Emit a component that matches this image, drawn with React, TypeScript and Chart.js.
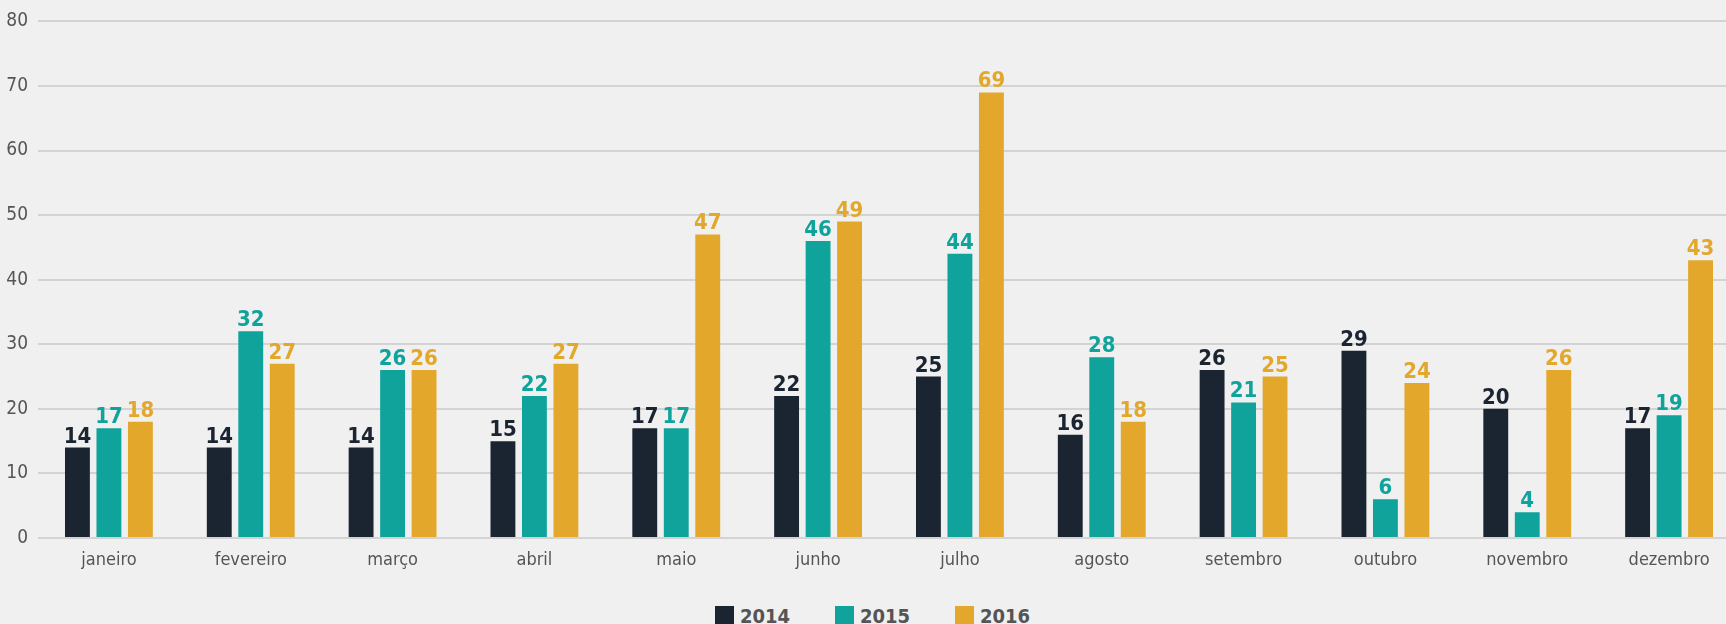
import React, { useEffect, useRef } from "react";
import { Chart, registerables } from "chart.js";

Chart.register(...registerables);

const FONT = '"DejaVu Sans Condensed", "Liberation Sans Narrow", "Roboto", sans-serif';

const months = [
  "janeiro", "fevereiro", "março", "abril", "maio", "junho",
  "julho", "agosto", "setembro", "outubro", "novembro", "dezembro",
];
const seriesNames = ["2014", "2015", "2016"];
const values2014 = [14, 14, 14, 15, 17, 22, 25, 16, 26, 29, 20, 17];
const values2015 = [17, 32, 26, 22, 17, 46, 44, 28, 21, 6, 4, 19];
const values2016 = [18, 27, 26, 27, 47, 49, 69, 18, 25, 24, 26, 43];
const colors = ["#1b2431", "#0fa39c", "#e3a72b"];
const yMin = 0;
const yMax = 80;
const yStep = 10;

const valueLabels = {
  id: "valueLabels",
  afterDatasetsDraw(chart: any) {
    const ctx = chart.ctx;
    chart.data.datasets.forEach((ds: any, i: number) => {
      const meta = chart.getDatasetMeta(i);
      meta.data.forEach((bar: any, j: number) => {
        ctx.save();
        ctx.font = `bold 22px ${FONT}`;
        ctx.fillStyle = ds.backgroundColor;
        ctx.textAlign = "center";
        ctx.textBaseline = "alphabetic";
        ctx.fillText(String(ds.data[j]), bar.x, bar.y - 5);
        ctx.restore();
      });
    });
  },
};

export default function App() {
  const ref = useRef<HTMLCanvasElement | null>(null);

  useEffect(() => {
    if (!ref.current) return;
    const allValues = [values2014, values2015, values2016];
    const chart = new Chart(ref.current, {
      type: "bar",
      data: {
        labels: months,
        datasets: seriesNames.map((name, i) => ({
          label: name,
          data: allValues[i],
          backgroundColor: colors[i],
          borderWidth: 0,
          categoryPercentage: 0.666,
          barPercentage: 0.79,
        })),
      },
      options: {
        responsive: false,
        animation: false,
        layout: { padding: { top: 20, left: 0, right: 0, bottom: 0 } },
        plugins: {
          legend: { display: false },
          tooltip: { enabled: false },
        },
        scales: {
          x: {
            grid: { display: false, drawTicks: false },
            border: { display: false },
            ticks: {
              color: "#555555",
              font: { family: FONT, size: 18 },
              padding: 12,
              maxRotation: 0,
              autoSkip: false,
            },
            afterFit(scale: any) {
              scale.height = 42;
            },
          },
          y: {
            min: yMin,
            max: yMax,
            grid: { color: "#d3d3d3", lineWidth: 2, drawTicks: false },
            border: { display: false },
            ticks: {
              stepSize: yStep,
              color: "#555555",
              font: { family: FONT, size: 19 },
              padding: 10,
            },
            afterFit(scale: any) {
              scale.width = 38;
            },
          },
        },
      },
      plugins: [valueLabels],
    });
    return () => chart.destroy();
  }, []);

  const legendX = [715, 835, 955];

  return (
    <div
      style={{
        position: "fixed",
        left: 0,
        top: 0,
        width: 1726,
        height: 624,
        overflow: "hidden",
        background: "#f0f0f0",
      }}
    >
      <canvas
        ref={ref}
        width={1740}
        height={580}
        style={{ position: "absolute", left: 0, top: 0, width: 1740, height: 580 }}
      />
      {seriesNames.map((name, i) => (
        <div
          key={name}
          style={{
            position: "absolute",
            left: legendX[i],
            top: 606,
            display: "flex",
            alignItems: "flex-start",
            fontFamily: FONT,
            fontWeight: "bold",
            fontSize: 20,
            color: "#555555",
            lineHeight: "20px",
            whiteSpace: "nowrap",
          }}
        >
          <span style={{ display: "inline-block", width: 19, height: 19, background: colors[i], marginRight: 6 }} />
          <span>{name}</span>
        </div>
      ))}
    </div>
  );
}
